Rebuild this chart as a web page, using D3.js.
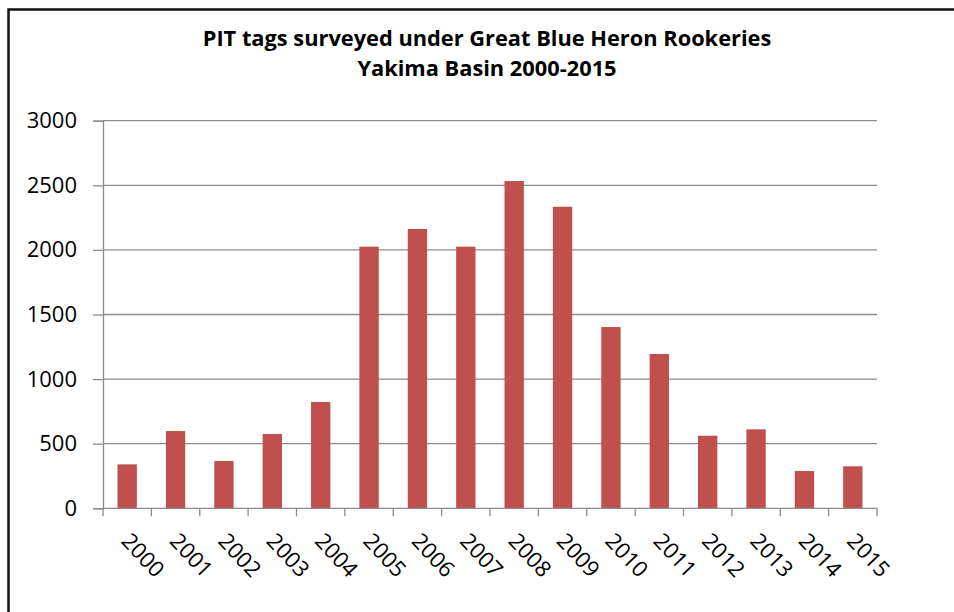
<!DOCTYPE html>
<html>
<head>
<meta charset="utf-8">
<script src="https://cdn.jsdelivr.net/npm/d3@7"></script>
<style>
  html, body { margin: 0; padding: 0; background: #fff; }
  svg { display: block; }
  text { font-family: "Open Sans", "Liberation Sans", sans-serif; fill: #000; }
</style>
</head>
<body>
<svg id="chart" width="954" height="612"></svg>
<script>
const years = ["2000","2001","2002","2003","2004","2005","2006","2007","2008","2009","2010","2011","2012","2013","2014","2015"];
const tagCounts = [340, 598, 366, 575, 823, 2025, 2162, 2025, 2533, 2334, 1403, 1194, 562, 611, 289, 325];
const yTicks = [0, 500, 1000, 1500, 2000, 2500, 3000];
const titleLines = ["PIT tags surveyed under Great Blue Heron Rookeries", "Yakima Basin 2000-2015"];

(function () {
const svg = d3.select("#chart");
const plotLeft = 103, plotRight = 877, plotTop = 120.7, plotBottom = 508.3;

// outer border (extends beyond right/bottom edges as in the reference)
svg.append("rect")
  .attr("x", 8.5).attr("y", 9.5).attr("width", 1000).attr("height", 1000)
  .attr("fill", "none").attr("stroke", "#111").attr("stroke-width", 2.5);

const x = d3.scaleBand().domain(years).range([plotLeft, plotRight]).paddingInner(0.6).paddingOuter(0.3);
const y = d3.scaleLinear().domain([0, 3000]).range([plotBottom, plotTop]);

// gridlines
svg.append("g").selectAll("line").data(yTicks.filter(d => d > 0)).join("line")
  .attr("x1", plotLeft).attr("x2", plotRight)
  .attr("y1", d => y(d)).attr("y2", d => y(d))
  .attr("stroke", "#8c8c8c").attr("stroke-width", 1.3);

// y axis
const yAxis = svg.append("g").attr("transform", `translate(${plotLeft},0)`)
  .call(d3.axisLeft(y).tickValues(yTicks).tickSize(10).tickPadding(16).tickFormat(d3.format("d")));
yAxis.select(".domain").attr("stroke", "#8c8c8c").attr("stroke-width", 1.3);
yAxis.selectAll(".tick line").attr("stroke", "#8c8c8c").attr("stroke-width", 1.3);
yAxis.selectAll(".tick text").attr("font-size", 22).attr("font-family", "'Open Sans', sans-serif").attr("fill", "#111");

// bars
svg.append("g").selectAll("rect").data(years).join("rect")
  .attr("x", d => x(d))
  .attr("width", x.bandwidth())
  .attr("y", (d, i) => y(tagCounts[i]))
  .attr("height", (d, i) => y(0) - y(tagCounts[i]))
  .attr("fill", "#C0504D");

// x axis line and ticks at band boundaries
const step = x.step();
const boundaries = d3.range(years.length + 1).map(i => plotLeft + i * step);
svg.append("line").attr("x1", plotLeft).attr("x2", plotRight).attr("y1", plotBottom).attr("y2", plotBottom)
  .attr("stroke", "#8c8c8c").attr("stroke-width", 1.3);
svg.append("g").selectAll("line").data(boundaries).join("line")
  .attr("x1", d => d).attr("x2", d => d).attr("y1", plotBottom).attr("y2", plotBottom + 8)
  .attr("stroke", "#8c8c8c").attr("stroke-width", 1.3);

// x labels rotated 45°
svg.append("g").selectAll("text").data(years).join("text")
  .attr("transform", d => `translate(${x(d) + x.bandwidth() / 2 - 7},${542}) rotate(47)`)
  .attr("text-anchor", "start")
  .attr("font-size", 22)
  .attr("fill", "#111")
  .text(d => d);

// title
svg.append("g").selectAll("text").data(titleLines).join("text")
  .attr("x", 487)
  .attr("y", (d, i) => 46 + i * 30)
  .attr("text-anchor", "middle")
  .attr("font-size", 21.8)
  .attr("font-weight", "bold")
  .text(d => d);
})();
</script>
</body>
</html>
